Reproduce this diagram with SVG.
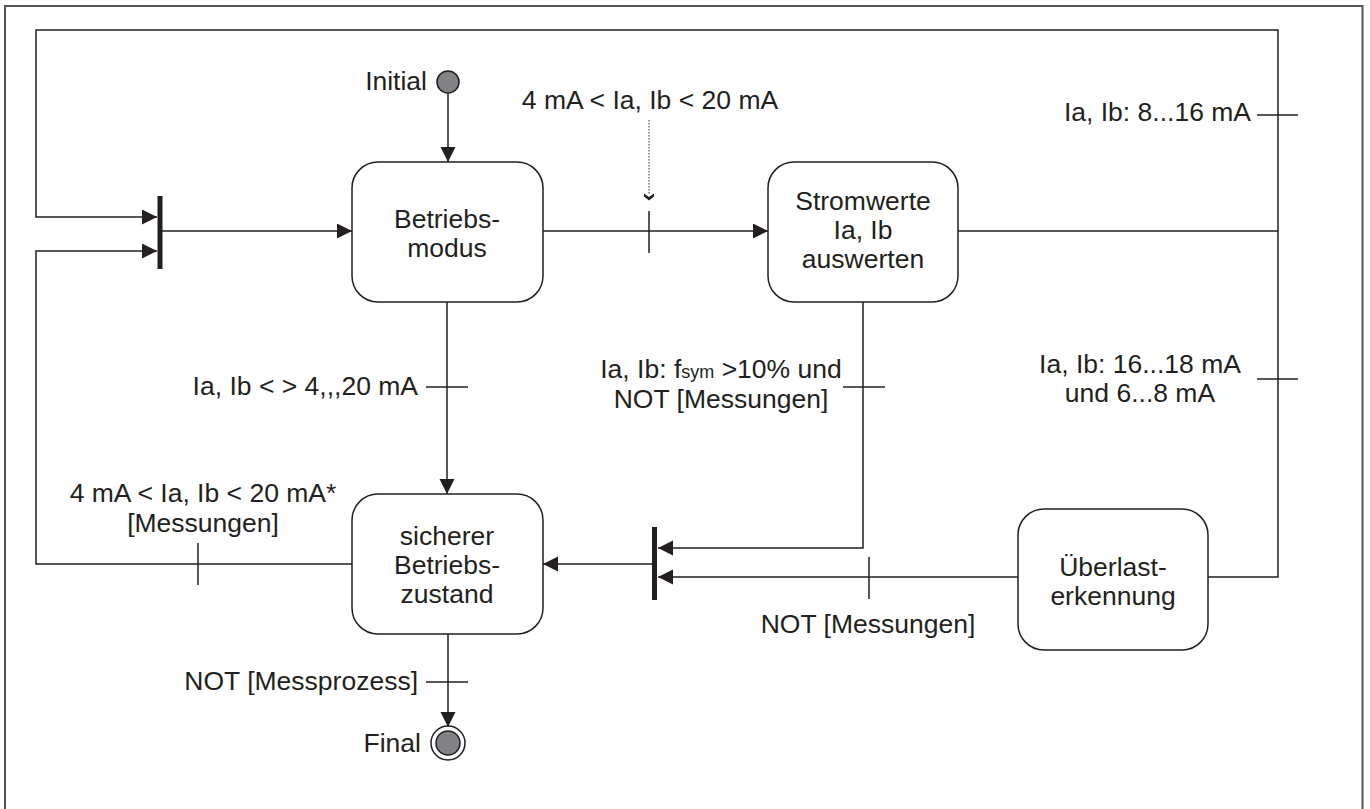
<svg xmlns="http://www.w3.org/2000/svg" width="1370" height="809" viewBox="0 0 1370 809">
<style>
text{font-family:"Liberation Sans",Arial,sans-serif;font-size:26.5px;fill:#231f20}
.node rect{fill:#fff;stroke:#231f20;stroke-width:1.5}
.c{fill:none;stroke:#231f20;stroke-width:1.5}
.bar{fill:#231f20}
.m{text-anchor:middle}
.e{text-anchor:end}
</style>
<defs>
<marker id="ah" markerUnits="userSpaceOnUse" markerWidth="16" markerHeight="16" refX="15" refY="7.5" orient="auto">
<path d="M0,0 L15,7.5 L0,15 z" fill="#231f20"/>
</marker>
</defs>
<rect x="5" y="6" width="1357.5" height="820" fill="#fff" stroke="#555" stroke-width="2"/>

<g id="connectors">
<line class="c" x1="448" y1="93" x2="448" y2="162" marker-end="url(#ah)"/>
<polyline class="c" points="1278,230 1278,30 36,30 36,217 157,217" marker-end="url(#ah)"/>
<polyline class="c" points="352,564 36,564 36,251 157,251" marker-end="url(#ah)"/>
<line class="c" x1="198" y1="543" x2="198" y2="585"/>
<line class="c" x1="162" y1="231" x2="352" y2="231" marker-end="url(#ah)"/>
<line class="c" x1="543" y1="231" x2="768" y2="231" marker-end="url(#ah)"/>
<line class="c" x1="649" y1="211" x2="649" y2="253"/>
<line x1="649" y1="120" x2="649" y2="194" stroke="#555" stroke-width="1.2" stroke-dasharray="1.5,1.5"/>
<path d="M644,193.5 L649,197 L654,193.5 L654,196.5 L649,200.5 L644,196.5 z" fill="#231f20"/>
<line class="c" x1="958" y1="231" x2="1278" y2="231"/>
<polyline class="c" points="1278,230 1278,577 1208,577"/>
<line class="c" x1="1257" y1="115" x2="1298" y2="115"/>
<line class="c" x1="1257" y1="379" x2="1298" y2="379"/>
<polyline class="c" points="863,302 863,548 658,548" marker-end="url(#ah)"/>
<line class="c" x1="843" y1="387" x2="885" y2="387"/>
<line class="c" x1="1018" y1="577" x2="658" y2="577" marker-end="url(#ah)"/>
<line class="c" x1="869" y1="557" x2="869" y2="599"/>
<line class="c" x1="652" y1="564" x2="543" y2="564" marker-end="url(#ah)"/>
<line class="c" x1="447" y1="302" x2="447" y2="494" marker-end="url(#ah)"/>
<line class="c" x1="426" y1="387" x2="468" y2="387"/>
<line class="c" x1="448" y1="634" x2="448" y2="727" marker-end="url(#ah)"/>
<line class="c" x1="426" y1="682" x2="468" y2="682"/>
</g>

<g id="labels">
<text class="m" x="650" y="109">4 mA &lt; Ia, Ib &lt; 20 mA</text>
<text class="e" x="1251" y="121">Ia, Ib: 8...16 mA</text>
<text class="m" x="1140" y="373">Ia, Ib: 16...18 mA</text>
<text class="m" x="1140" y="402">und 6...8 mA</text>
<text class="m" x="721" y="378">Ia, Ib: f<tspan font-size="18">sym</tspan> &gt;10% und</text>
<text class="m" x="721" y="408">NOT [Messungen]</text>
<text class="m" x="868" y="633">NOT [Messungen]</text>
<text class="e" x="418" y="395">Ia, Ib &lt; &gt; 4,,,20 mA</text>
<text class="m" x="203" y="502">4 mA &lt; Ia, Ib &lt; 20 mA*</text>
<text class="m" x="203" y="532">[Messungen]</text>
<text class="e" x="418" y="690">NOT [Messprozess]</text>
</g>

<g id="initial">
<circle cx="448" cy="82" r="11" fill="#808285" stroke="#231f20" stroke-width="1.5"/>
<text class="e" x="427" y="90">Initial</text>
</g>

<g id="final">
<circle cx="448" cy="743" r="17" fill="#fff" stroke="#231f20" stroke-width="1.5"/>
<circle cx="448" cy="743" r="12" fill="#808285" stroke="#231f20" stroke-width="1.5"/>
<text class="e" x="421" y="752">Final</text>
</g>

<g id="fork"><rect class="bar" x="157.5" y="196" width="5" height="73"/></g>
<g id="join"><rect class="bar" x="652" y="527" width="5" height="73"/></g>

<g id="betriebsmodus" class="node">
<rect x="352" y="162" width="191" height="140" rx="26"/>
<text class="m" x="447" y="228">Betriebs-</text>
<text class="m" x="447" y="257">modus</text>
</g>

<g id="stromwerte" class="node">
<rect x="768" y="162" width="190" height="140" rx="26"/>
<text class="m" x="863" y="210">Stromwerte</text>
<text class="m" x="863" y="239">Ia, Ib</text>
<text class="m" x="863" y="268">auswerten</text>
</g>

<g id="sicherer" class="node">
<rect x="352" y="494" width="191" height="140" rx="26"/>
<text class="m" x="447" y="545">sicherer</text>
<text class="m" x="447" y="574">Betriebs-</text>
<text class="m" x="447" y="603">zustand</text>
</g>

<g id="ueberlast" class="node">
<rect x="1018" y="509" width="190" height="141" rx="26"/>
<text class="m" x="1113" y="576">Überlast-</text>
<text class="m" x="1113" y="605">erkennung</text>
</g>
</svg>
